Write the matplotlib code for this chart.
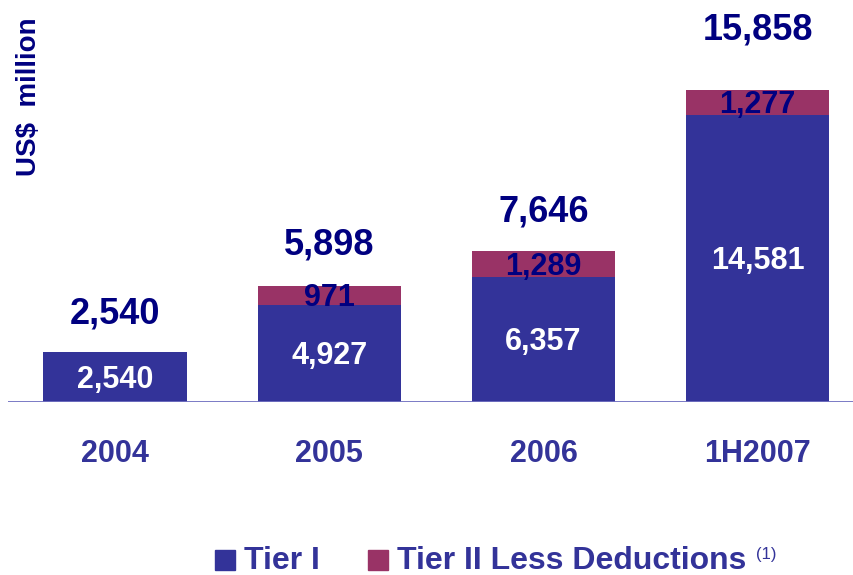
import matplotlib
matplotlib.use("Agg")
import matplotlib.pyplot as plt

categories = ["2004", "2005", "2006", "1H2007"]
tier1 = [2540, 4927, 6357, 14581]
tier2 = [0, 971, 1289, 1277]
totals = [2540, 5898, 7646, 15858]

# layout (pixel gaps between bar top and total label baseline)
label_gaps_px = [28, 31, 30, 50]

C_T1 = "#333399"
C_T2 = "#993366"
NAVY = "#000080"
TICK = "#333399"

plt.rcParams['font.family'] = ['Liberation Sans', 'DejaVu Sans']
plt.rcParams['font.weight'] = 'bold'

W, H = 854, 575
fig = plt.figure(figsize=(W/100, H/100), dpi=100)
ax = fig.add_axes([8/W, 173/H, (W-8)/W, (H-173)/H])
ax.set_xlim(-0.5, 3.45)
ax.set_ylim(0, 20400)
ax.axis('off')

x = range(len(categories))
bw = 0.67
ax.bar(x, tier1, width=bw, color=C_T1, edgecolor='none')
ax.bar(x, tier2, width=bw, bottom=tier1, color=C_T2, edgecolor='none')
ax.axhline(0, color="#7070c0", lw=1.3)

for i in x:
    ax.annotate(f"{tier1[i]:,}", xy=(i, tier1[i]/2), xytext=(0, -2), textcoords='offset points',
                ha='center', va='center', color='white', fontsize=22, fontweight='bold')
    if tier2[i] > 0:
        ax.annotate(f"{tier2[i]:,}", xy=(i, tier1[i] + tier2[i]/2), xytext=(0, -2),
                    textcoords='offset points', ha='center', va='center',
                    color=NAVY, fontsize=22, fontweight='bold')
    ax.annotate(f"{totals[i]:,}", xy=(i, tier1[i] + tier2[i]),
                xytext=(0, label_gaps_px[i]*0.72), textcoords='offset points',
                ha='center', va='baseline', color=NAVY, fontsize=26, fontweight='bold')
    ax.annotate(categories[i], xy=(i, 0), xytext=(0, -52*0.72), textcoords='offset points',
                ha='center', va='center', color=TICK, fontsize=22, fontweight='bold')

fig.text(29/W, 1 - 97/H, "US$  million", rotation=90, ha='center', va='center',
         color=NAVY, fontsize=20, fontweight='bold')

# legend
fig.patches.append(plt.Rectangle((215/W, 1-570/H), 20/W, 20/H, transform=fig.transFigure,
                                 color=C_T1, figure=fig))
fig.text(244/W, 1-561/H, "Tier I", ha='left', va='center', color=C_T1, fontsize=23,
         fontweight='bold')
fig.patches.append(plt.Rectangle((368/W, 1-570/H), 20/W, 20/H, transform=fig.transFigure,
                                 color=C_T2, figure=fig))
fig.text(397/W, 1-561/H, "Tier II Less Deductions", ha='left', va='center', color=C_T1,
         fontsize=23, fontweight='bold')
fig.text(756/W, 1-554/H, "(1)", ha='left', va='center', color=C_T1, fontsize=12,
         fontweight='normal')

fig.savefig("out.png", dpi=100)
